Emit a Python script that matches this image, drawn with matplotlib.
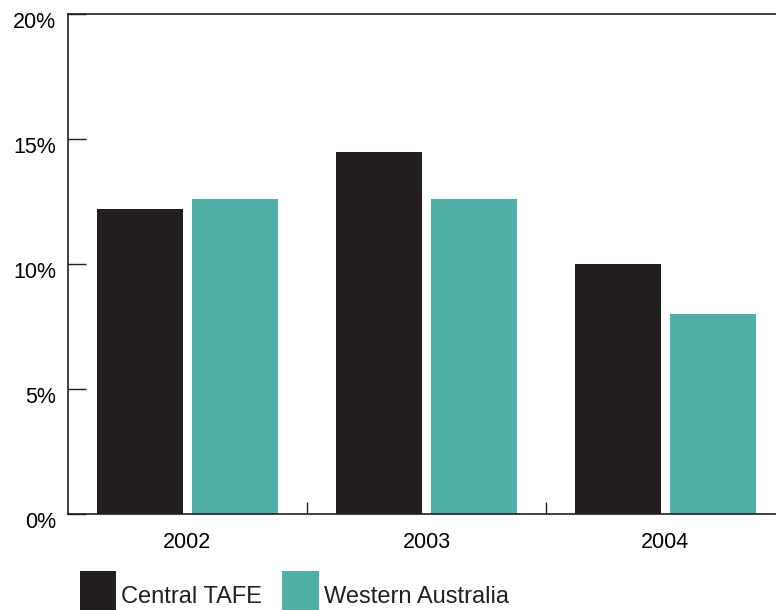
import matplotlib
matplotlib.use("Agg")
import matplotlib.pyplot as plt
import matplotlib.transforms as mtransforms
from matplotlib.patches import Patch
import numpy as np

years = ["2002", "2003", "2004"]
central_tafe = [12.2, 14.5, 10.0]
western_australia = [12.6, 12.6, 8.0]
series_names = ["Central TAFE", "Western Australia"]
y_ticks = [0, 5, 10, 15, 20]
y_tick_labels = ["0%", "5%", "10%", "15%", "20%"]

DARK = "#231F20"
TEAL = "#50AFA7"

plt.rcParams['font.family'] = ['Liberation Sans', 'DejaVu Sans']

W, H = 776, 610
fig = plt.figure(figsize=(W / 100, H / 100), dpi=100)
ax = fig.add_axes([68 / W, 1 - 514 / H, 717 / W, 500 / H])

x = np.arange(len(years))
bw = 0.36
off = 0.2
ax.bar(x - off, central_tafe, width=bw, color=DARK, linewidth=0)
ax.bar(x + off, western_australia, width=bw, color=TEAL, linewidth=0)

ax.set_xlim(-0.5, 2.5)
ax.set_ylim(0, 20)

for s in ["left", "bottom", "top"]:
    ax.spines[s].set_color(DARK)
    ax.spines[s].set_linewidth(1.2)
ax.spines["right"].set_visible(False)

ax.set_yticks(y_ticks)
ax.set_yticklabels(y_tick_labels)
ax.tick_params(axis="y", direction="in", length=13, width=1.0, color=DARK,
               pad=8.5, labelsize=15.5, labelcolor="black")
ax.set_xticks(x)
ax.set_xticklabels(years)
ax.tick_params(axis="x", which="major", length=0, pad=13, labelsize=15.5, labelcolor="black")
ax.set_xticks([0.5, 1.5], minor=True)
ax.tick_params(axis="x", which="minor", direction="in", length=8.6, width=1.0, color=DARK)

shift = mtransforms.ScaledTranslation(0, -6 / 100, fig.dpi_scale_trans)
for lab in ax.get_yticklabels():
    lab.set_transform(lab.get_transform() + shift)

handles = [Patch(facecolor=DARK, edgecolor="none"), Patch(facecolor=TEAL, edgecolor="none")]
fig.legend(handles, series_names, loc="upper left",
           bbox_to_anchor=(80 / W, 1 - 571 / H), bbox_transform=fig.transFigure,
           ncol=2, frameon=False, fontsize=17, borderpad=0, borderaxespad=0,
           handlelength=1.53, handleheight=2.85, handletextpad=0.22,
           columnspacing=0.85, labelcolor=DARK)

fig.savefig("out.png", dpi=100)
